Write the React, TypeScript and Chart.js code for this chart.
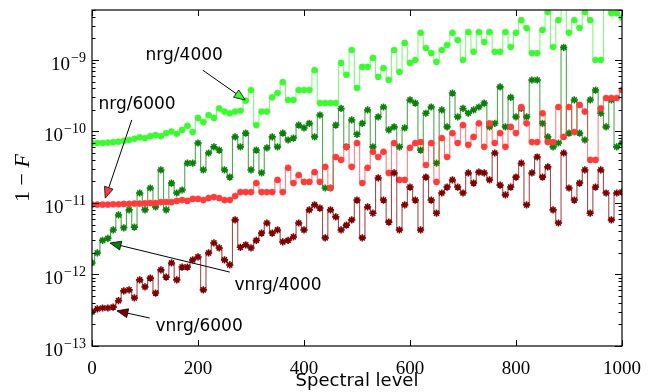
import React, { useEffect, useRef } from "react";
import { Chart, registerables } from "chart.js";
Chart.register(...registerables);

const LEVELS = [
  0, 10, 20, 30, 40, 50, 60, 70, 80, 90,
  100, 110, 120, 130, 140, 150, 160, 170, 180, 190,
  200, 210, 220, 230, 240, 250, 260, 270, 280, 290,
  300, 310, 320, 330, 340, 350, 360, 370, 380, 390,
  400, 410, 420, 430, 440, 450, 460, 470, 480, 490,
  500, 510, 520, 530, 540, 550, 560, 570, 580, 590,
  600, 610, 620, 630, 640, 650, 660, 670, 680, 690,
  700, 710, 720, 730, 740, 750, 760, 770, 780, 790,
  800, 810, 820, 830, 840, 850, 860, 870, 880, 890,
  900, 910, 920, 930, 940, 950, 960, 970, 980, 990,
  1000,
];

const NRG_4000 = [
  6.9e-11, 6.9e-11, 6.9e-11, 7.0e-11, 7.1e-11, 7.2e-11, 7.4e-11, 7.6e-11, 7.9e-11, 8.3e-11,
  8.1e-11, 8.6e-11, 8.9e-11, 8.6e-11, 9.5e-11, 1.0e-10, 9.3e-11, 1.05e-10, 1.2e-10, 9.8e-11,
  1.55e-10, 1.35e-10, 1.7e-10, 1.55e-10, 2.1e-10, 1.9e-10, 1.8e-10, 1.9e-10, 1.95e-10, 2.7e-10,
  3.8e-10, 1.23e-10, 1.9e-10, 1.9e-10, 3.0e-10, 3.45e-10, 4.9e-10, 2.75e-10, 2.75e-10, 3.8e-10,
  3.8e-10, 3.8e-10, 7.2e-10, 2.5e-10, 2.5e-10, 2.5e-10, 2.5e-10, 9.1e-10, 6.2e-10, 1.38e-9,
  4.06e-10, 8.0e-10, 8.0e-10, 1.07e-9, 5.8e-10, 7.7e-10, 5.25e-10, 1.38e-9, 6.8e-10, 1.73e-9,
  9.1e-10, 1.0e-9, 2.4e-9, 1.47e-9, 1.25e-9, 9.4e-10, 1.38e-9, 1.62e-9, 2.4e-9, 1.9e-9,
  1.0e-9, 2.46e-9, 1.3e-9, 2.46e-9, 1.78e-9, 2.46e-9, 1.3e-9, 1.3e-9, 2.46e-9, 1.52e-9,
  2.4e-9, 3.6e-9, 2.8e-9, 1.25e-9, 1.25e-9, 2.63e-9, 4.7e-9, 1.52e-9, 3.6e-9, 7e-9,
  2.4e-9, 3.6e-9, 2.8e-9, 4.7e-9, 3.6e-9, 1.0e-9, 1.0e-9, 6e-9, 4.5e-9, 4.5e-9,
  3.9e-9,
];

const NRG_6000 = [
  9.5e-12, 9.5e-12, 9.5e-12, 9.5e-12, 9.6e-12, 9.6e-12, 9.7e-12, 9.7e-12, 9.8e-12, 9.8e-12,
  9.9e-12, 1.0e-11, 1.0e-11, 1.03e-11, 1.03e-11, 1.03e-11, 1.07e-11, 1.1e-11, 1.07e-11, 1.14e-11,
  1.14e-11, 1.1e-11, 1.17e-11, 1.21e-11, 1.17e-11, 1.1e-11, 1.1e-11, 1.25e-11, 1.42e-11, 1.42e-11,
  1.42e-11, 1.9e-11, 1.42e-11, 1.42e-11, 1.42e-11, 2.1e-11, 1.42e-11, 3.1e-11, 1.9e-11, 2.46e-11,
  1.97e-11, 1.97e-11, 2.7e-11, 1.97e-11, 3.2e-11, 1.62e-11, 4.4e-11, 4.0e-11, 6.1e-11, 3.2e-11,
  6.9e-11, 1.9e-11, 3.1e-11, 5.2e-11, 4.4e-11, 5.2e-11, 2.63e-11, 6.9e-11, 2.1e-11, 2.1e-11,
  5.9e-11, 6.9e-11, 7.1e-11, 3.4e-11, 6.9e-11, 1.97e-11, 8.1e-11, 4.4e-11, 9.5e-11, 6.9e-11,
  1.23e-10, 6.5e-11, 8.4e-11, 1.3e-10, 6.1e-11, 1.3e-10, 6.9e-11, 9.5e-11, 6.1e-11, 1.16e-10,
  9.5e-11, 2.2e-10, 1.3e-10, 7.1e-11, 7.1e-11, 1.8e-10, 7.1e-11, 7.1e-11, 2.2e-10, 8.4e-11,
  2.2e-10, 9.8e-11, 2.35e-10, 1.9e-10, 4.0e-11, 4.0e-11, 2.1e-10, 2.94e-10, 2.94e-10, 2.94e-10,
  3.8e-10,
];

const VNRG_4000 = [
  1.45e-12, 2.0e-12, 3.0e-12, 3.2e-12, 4.2e-12, 6.8e-12, 4.5e-12, 8.0e-12, 4.6e-12, 1.38e-11,
  8.0e-12, 1.62e-11, 8.8e-12, 2.9e-11, 8.0e-12, 1.9e-11, 1.38e-11, 1.52e-11, 3.6e-11, 3.6e-11,
  6.9e-11, 2.9e-11, 5.0e-11, 6.1e-11, 5.5e-11, 2.9e-11, 2.3e-11, 8.4e-11, 6.1e-11, 9.5e-11,
  2.9e-11, 5.5e-11, 2.63e-11, 5.9e-11, 8.4e-11, 6.1e-11, 9.5e-11, 7.6e-11, 8.1e-11, 1.23e-10,
  1.12e-10, 1.3e-10, 8.4e-11, 1.7e-10, 1.62e-11, 1.62e-11, 1.23e-10, 2.1e-10, 6.1e-11, 1.45e-10,
  9.1e-11, 1.3e-10, 2.0e-10, 6.1e-11, 1.6e-10, 2.2e-10, 1.05e-10, 1.16e-10, 6.1e-11, 1.12e-10,
  2.76e-10, 2.5e-10, 5.5e-11, 1.8e-10, 2.2e-10, 3.6e-11, 2.0e-10, 1.16e-10, 3.45e-10, 1.6e-10,
  2.1e-10, 1.8e-10, 2.0e-10, 2.2e-10, 2.5e-10, 1.16e-10, 1.3e-10, 4.2e-10, 1.16e-10, 3.0e-10,
  1.6e-10, 2.1e-10, 1.6e-10, 5.25e-10, 5.25e-10, 1.3e-10, 8.4e-11, 6.1e-11, 6.9e-11, 1.5e-9,
  9.5e-11, 2.76e-10, 9.5e-11, 7.6e-11, 2.76e-10, 3.8e-10, 1.8e-10, 1.16e-10, 2.76e-10, 6.1e-11,
  6.9e-11,
];

const VNRG_6000 = [
  3.0e-13, 3.3e-13, 3.4e-13, 3.4e-13, 3.5e-13, 4.3e-13, 5.9e-13, 6.1e-13, 4.7e-13, 8.4e-13,
  6.7e-13, 8.9e-13, 5.5e-13, 1.16e-12, 9.2e-13, 1.45e-12, 8.4e-13, 1.27e-12, 1.27e-12, 1.6e-12,
  1.76e-12, 6.1e-13, 2.0e-12, 2.76e-12, 2.35e-12, 1.6e-12, 1.36e-12, 5.8e-12, 2.4e-12, 2.6e-12,
  2.35e-12, 3.0e-12, 3.8e-12, 5.25e-12, 3.8e-12, 4.2e-12, 2.85e-12, 3.0e-12, 3.35e-12, 5.25e-12,
  4.2e-12, 8.0e-12, 9.4e-12, 8.5e-12, 3.25e-12, 8.0e-12, 6.4e-12, 4.2e-12, 4.9e-12, 5.8e-12,
  1.1e-11, 3.25e-12, 8.8e-12, 7.2e-12, 2.24e-11, 1.1e-11, 5.4e-12, 2.63e-11, 4.2e-12, 9.4e-12,
  1.67e-11, 1.1e-11, 4.2e-12, 2.3e-11, 1.1e-11, 7.2e-12, 1.38e-11, 1.67e-11, 2.1e-11, 1.67e-11,
  1.38e-11, 2.63e-11, 1.9e-11, 2.7e-11, 2.63e-11, 2.1e-11, 5.0e-11, 1.78e-11, 1.3e-11, 1.67e-11,
  2.3e-11, 3.6e-11, 9.4e-12, 2.63e-11, 4.4e-11, 2.3e-11, 3.2e-11, 8.0e-12, 5.25e-12, 5.0e-11,
  1.62e-11, 1.1e-11, 1.9e-11, 2.9e-11, 7.2e-12, 1.67e-11, 2.9e-11, 1.38e-11, 5.8e-12, 1.38e-11,
  1.42e-11,
];

const X_TICKS = [0, 200, 400, 600, 800, 1000];
const X_TICK_LABELS = ["0", "200", "400", "600", "800", "1000"];
const Y_DECADES = [-13, -12, -11, -10, -9];
const Y_MIN = 1e-13;
const Y_MAX = 5e-9;

const C_NRG4 = "rgb(60,250,50)";
const C_NRG6 = "rgb(255,60,60)";
const C_VNRG4 = "rgb(10,128,10)";
const C_VNRG6 = "rgb(125,0,0)";

const ANNOTATIONS = [
  { text: "nrg/4000", at: [174, 1.17e-9], from: [209, 7.2e-10], to: [289, 2.76e-10], color: C_NRG4 },
  { text: "nrg/6000", at: [85, 2.35e-10], from: [75, 1.45e-10], to: [25, 1.17e-11], color: C_NRG6 },
  { text: "vnrg/4000", at: [351, 6.9e-13], from: [260, 1.08e-12], to: [34, 2.76e-12], color: C_VNRG4 },
  { text: "vnrg/6000", at: [202, 1.84e-13], from: [109, 2.46e-13], to: [47, 3.1e-13], color: C_VNRG6 },
];

const SERIF = '"Liberation Serif", "DejaVu Serif", serif';
const SANS = '"DejaVu Sans", sans-serif';

const decor = {
  id: "decor",
  afterDraw(chart: any) {
    const { ctx, chartArea: a, scales } = chart;
    const x = scales.x;
    const y = scales.y;
    ctx.save();
    // annotations
    ctx.font = `17px ${SANS}`;
    ctx.textAlign = "center";
    ctx.textBaseline = "middle";
    for (const an of ANNOTATIONS) {
      ctx.fillStyle = "#000";
      ctx.fillText(an.text, x.getPixelForValue(an.at[0]), y.getPixelForValue(an.at[1]));
      const fx = x.getPixelForValue(an.from[0]);
      const fy = y.getPixelForValue(an.from[1]);
      const tx = x.getPixelForValue(an.to[0]);
      const ty = y.getPixelForValue(an.to[1]);
      const ang = Math.atan2(ty - fy, tx - fx);
      const hl = 11;
      const hw = 4.5;
      const c = Math.cos(ang);
      const s = Math.sin(ang);
      const bx = tx - hl * c;
      const by = ty - hl * s;
      ctx.strokeStyle = "#000";
      ctx.lineWidth = 1;
      ctx.beginPath();
      ctx.moveTo(fx, fy);
      ctx.lineTo(bx, by);
      ctx.stroke();
      ctx.beginPath();
      ctx.moveTo(tx, ty);
      ctx.lineTo(bx + hw * s, by - hw * c);
      ctx.lineTo(bx - hw * s, by + hw * c);
      ctx.closePath();
      ctx.fillStyle = an.color;
      ctx.fill();
      ctx.lineWidth = 0.8;
      ctx.stroke();
    }
    // frame
    ctx.strokeStyle = "#000";
    ctx.lineWidth = 1.2;
    ctx.strokeRect(a.left, a.top, a.right - a.left, a.bottom - a.top);
    // ticks
    ctx.lineWidth = 1;
    ctx.beginPath();
    for (const v of X_TICKS) {
      const px = Math.round(x.getPixelForValue(v)) + 0.5;
      ctx.moveTo(px, a.bottom);
      ctx.lineTo(px, a.bottom - 6);
      ctx.moveTo(px, a.top);
      ctx.lineTo(px, a.top + 6);
    }
    for (const e of Y_DECADES) {
      for (let m = 1; m <= 9; m++) {
        const v = m * Math.pow(10, e);
        if (v > Y_MAX * 1.0001) continue;
        const py = Math.round(y.getPixelForValue(v)) + 0.5;
        const len = m === 1 ? 7 : 3.5;
        ctx.moveTo(a.left, py);
        ctx.lineTo(a.left + len, py);
        ctx.moveTo(a.right, py);
        ctx.lineTo(a.right - len, py);
      }
    }
    ctx.stroke();
    // y tick labels
    ctx.fillStyle = "#000";
    ctx.textAlign = "right";
    ctx.textBaseline = "alphabetic";
    for (const e of Y_DECADES) {
      const py = y.getPixelForValue(Math.pow(10, e));
      const exp = "\u2212" + Math.abs(e);
      ctx.font = `14px ${SERIF}`;
      const w = ctx.measureText(exp).width;
      const right = a.left - 6;
      ctx.fillText(exp, right, py + 2);
      ctx.font = `19px ${SERIF}`;
      ctx.fillText("10", right - w - 1, py + 10);
    }
    // y axis title "1 − F"
    ctx.save();
    ctx.translate(29, (a.top + a.bottom) / 2);
    ctx.rotate(-Math.PI / 2);
    ctx.font = `22px ${SERIF}`;
    const t1 = "1 \u2212 ";
    const w1 = ctx.measureText(t1).width;
    ctx.font = `italic 22px ${SERIF}`;
    const w2 = ctx.measureText("F").width;
    const start = -(w1 + w2) / 2;
    ctx.textAlign = "left";
    ctx.font = `22px ${SERIF}`;
    ctx.fillText(t1, start, 0);
    ctx.font = `italic 22px ${SERIF}`;
    ctx.fillText("F", start + w1, 0);
    ctx.restore();
    ctx.restore();
  },
};

export default function App() {
  const ref = useRef<HTMLCanvasElement>(null);
  useEffect(() => {
    document.body.style.margin = "0";
    const canvas = ref.current!;
    const mk = (label: string, data: number[], color: string, lineColor: string, style: string, radius: number, bw: number) => ({
      label,
      data: LEVELS.map((lv, i) => ({ x: lv, y: data[i] })),
      borderColor: lineColor,
      backgroundColor: color,
      pointBackgroundColor: color,
      pointBorderColor: color,
      pointStyle: style,
      pointRadius: radius,
      pointBorderWidth: bw,
      borderWidth: 1.1,
      stepped: "middle",
      fill: false,
    });
    const chart = new Chart(canvas, {
      type: "line",
      data: {
        datasets: [
          mk("vnrg/6000", VNRG_6000, C_VNRG6, "rgba(125,0,0,0.7)", "star", 3.6, 1.6),
          mk("nrg/6000", NRG_6000, C_NRG6, "rgba(255,60,60,0.65)", "circle", 3.1, 0.5),
          mk("vnrg/4000", VNRG_4000, C_VNRG4, "rgba(10,128,10,0.7)", "star", 3.6, 1.6),
          mk("nrg/4000", NRG_4000, C_NRG4, "rgba(60,250,50,0.65)", "circle", 3.1, 0.5),
        ] as any,
      },
      options: {
        animation: false,
        responsive: false,
        maintainAspectRatio: false,
        devicePixelRatio: 1,
        layout: { padding: { top: 10, right: 33, left: 0, bottom: 0 } },
        plugins: { legend: { display: false }, tooltip: { enabled: false } },
        scales: {
          x: {
            type: "linear",
            min: 0,
            max: 1000,
            afterBuildTicks: (s: any) => {
              s.ticks = X_TICKS.map((v) => ({ value: v }));
            },
            ticks: {
              font: { family: SERIF, size: 19 },
              color: "#000",
              padding: 4,
              maxRotation: 0,
              autoSkip: false,
              callback: (v: any) => {
                const i = X_TICKS.indexOf(Number(v));
                return i >= 0 ? X_TICK_LABELS[i] : "";
              },
            },
            grid: { display: false },
            border: { display: false },
            title: { display: true, text: "Spectral level", font: { family: SANS, size: 18 }, color: "#000", padding: 0 },
            afterFit: (s: any) => {
              s.height = 46;
            },
          },
          y: {
            type: "logarithmic",
            min: Y_MIN,
            max: Y_MAX,
            ticks: { display: false },
            grid: { display: false },
            border: { display: false },
            afterFit: (s: any) => {
              s.width = 92;
            },
          },
        },
      } as any,
      plugins: [decor],
    });
    return () => chart.destroy();
  }, []);
  return (
    <div style={{ width: 655, height: 392 }}>
      <canvas ref={ref} width={655} height={392} style={{ display: "block" }} />
    </div>
  );
}
